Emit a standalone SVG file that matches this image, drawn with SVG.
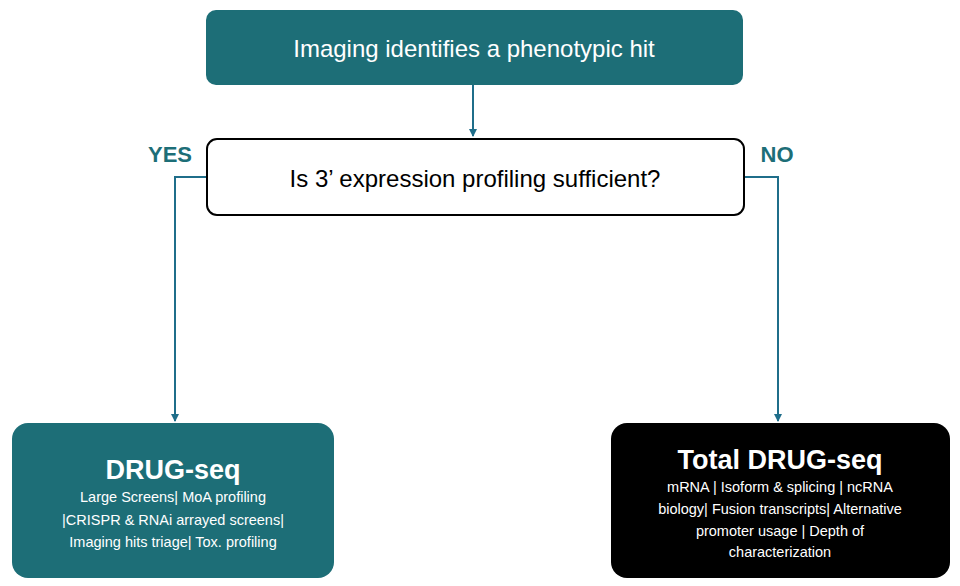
<svg xmlns="http://www.w3.org/2000/svg" width="960" height="586" viewBox="0 0 960 586">
<style>
.t{font-family:"Liberation Sans",Arial,sans-serif}
.c{fill:none;stroke:#1f6e8a;stroke-width:2}
.small{font-size:14.5px;fill:#fff;text-anchor:middle}
</style>
<defs><marker id="a" markerWidth="8" markerHeight="8" refX="7" refY="4" orient="auto" markerUnits="userSpaceOnUse"><path d="M0,0L8,4L0,8z" fill="#1f6e8a"/></marker></defs>
<rect width="960" height="586" fill="#fff"/>
<g id="connectors">
<path class="c" d="M473,85V136" marker-end="url(#a)"/>
<path class="c" d="M206,177H175V421" marker-end="url(#a)"/>
<path class="c" d="M744,177H778V421" marker-end="url(#a)"/>
</g>
<g id="start"><rect x="206" y="10" width="537" height="75" rx="10" fill="#1d6e77"/>
<text class="t" x="474" y="57" font-size="24" fill="#fff" text-anchor="middle">Imaging identifies a phenotypic hit</text></g>
<g id="question"><rect x="207" y="139" width="537" height="76" rx="10" fill="#fff" stroke="#000" stroke-width="2"/>
<text class="t" x="475" y="187" font-size="24" fill="#000" text-anchor="middle">Is 3’ expression profiling sufficient?</text></g>
<g id="yes"><text class="t" x="170" y="162" font-size="22" font-weight="bold" fill="#1d6e77" text-anchor="middle">YES</text></g>
<g id="no"><text class="t" x="777" y="162" font-size="22" font-weight="bold" fill="#1d6e77" text-anchor="middle">NO</text></g>
<g id="drugseq"><rect x="12" y="423" width="322" height="155" rx="16" fill="#1d6e77"/>
<text class="t" x="173" y="479" font-size="27" font-weight="bold" fill="#fff" text-anchor="middle">DRUG-seq</text>
<text class="t small" x="173" y="502">Large Screens| MoA profiling</text>
<text class="t small" x="173" y="525">|CRISPR &amp; RNAi arrayed screens|</text>
<text class="t small" x="173" y="547">Imaging hits triage| Tox. profiling</text></g>
<g id="total"><rect x="611" y="423" width="339" height="155" rx="16" fill="#000"/>
<text class="t" x="780" y="469" font-size="27" font-weight="bold" fill="#fff" text-anchor="middle">Total DRUG-seq</text>
<text class="t small" x="780" y="492">mRNA | Isoform &amp; splicing | ncRNA</text>
<text class="t small" x="780" y="514">biology| Fusion transcripts| Alternative</text>
<text class="t small" x="780" y="536">promoter usage | Depth of</text>
<text class="t small" x="780" y="557">characterization</text></g>
</svg>
